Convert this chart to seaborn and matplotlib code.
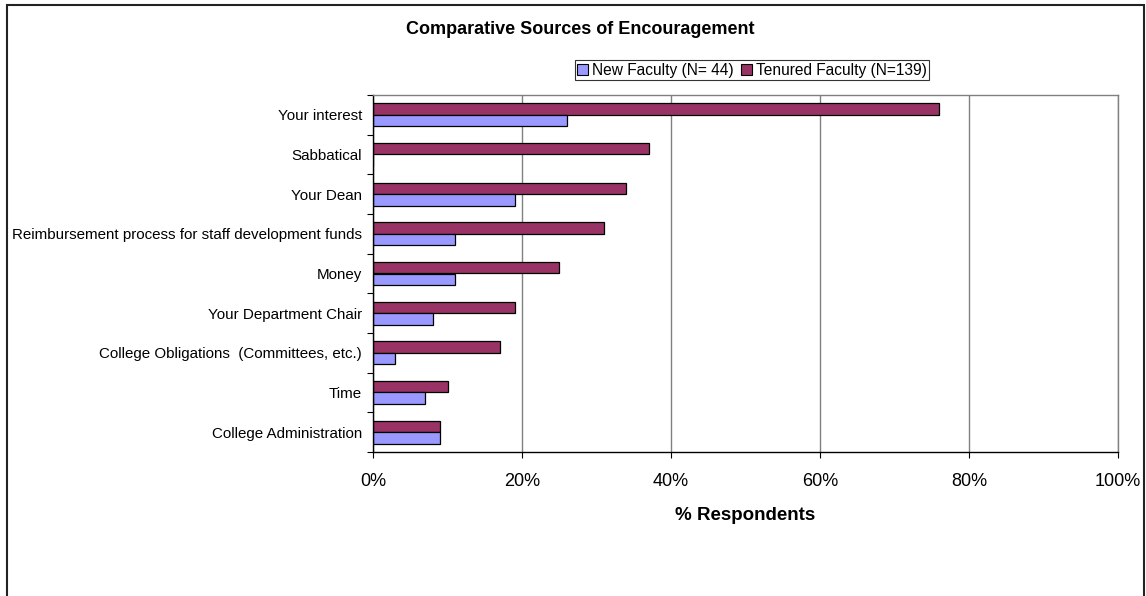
import matplotlib
matplotlib.use("Agg")
import matplotlib.pyplot as plt
from matplotlib.patches import Rectangle, Patch
from matplotlib.ticker import FixedLocator, FuncFormatter
import seaborn as sns
import pandas as pd

# Sources of encouragement, listed top to bottom
categories = [
    "Your interest",
    "Sabbatical",
    "Your Dean",
    "Reimbursement process for staff development funds",
    "Money",
    "Your Department Chair",
    "College Obligations  (Committees, etc.)",
    "Time",
    "College Administration",
]
new_faculty = [26, 0, 19, 11, 11, 8, 3, 7, 9]
tenured_faculty = [76, 37, 34, 31, 25, 19, 17, 10, 9]

new_label = "New Faculty (N= 44)"
tenured_label = "Tenured Faculty (N=139)"
x_ticks = [0, 20, 40, 60, 80, 100]

new_color = "#9999FF"
tenured_color = "#993366"

df = pd.DataFrame({
    "source": categories * 2,
    "pct": tenured_faculty + new_faculty,
    "group": [tenured_label] * len(categories) + [new_label] * len(categories),
})

sns.set_theme(style="white")
plt.rcParams["font.family"] = ["Liberation Sans", "DejaVu Sans"]
plt.rcParams["text.color"] = "black"
plt.rcParams["axes.labelcolor"] = "black"
plt.rcParams["xtick.color"] = "black"
plt.rcParams["ytick.color"] = "black"

W, H = 1146, 596
fig = plt.figure(figsize=(W / 100, H / 100), dpi=100)
ax = fig.add_axes([373 / W, 1 - 452 / H, (1118 - 373) / W, (452 - 95) / H])

sns.barplot(
    data=df, y="source", x="pct", hue="group",
    order=categories, hue_order=[tenured_label, new_label],
    palette={tenured_label: tenured_color, new_label: new_color},
    orient="h", width=0.575, gap=0, dodge=True,
    edgecolor="black", linewidth=0.9, saturation=1, legend=False, ax=ax,
)

ax.set_xlim(0, 100)
ax.set_ylim(len(categories) - 0.5, -0.5)

# x axis: percentage ticks with vertical gridlines
ax.xaxis.set_major_locator(FixedLocator(x_ticks))
ax.xaxis.set_major_formatter(FuncFormatter(lambda v, p: f"{int(v)}%"))
ax.tick_params(axis="x", direction="out", length=4, width=0.8, color="black",
               pad=11, labelsize=13, labelcolor="black", bottom=True)
ax.grid(axis="x", color="#808080", linewidth=1.0)
ax.grid(axis="y", visible=False)
ax.set_axisbelow(True)

# y axis: labels at category centres, tick marks between categories
ax.tick_params(axis="y", which="major", length=0, pad=8, labelsize=10.9, labelcolor="black")
ax.yaxis.set_minor_locator(FixedLocator([i - 0.5 for i in range(len(categories) + 1)]))
ax.tick_params(axis="y", which="minor", direction="out", length=4, width=0.8,
               color="black", left=True)
ax.set_ylabel("")

for side in ("left", "bottom"):
    ax.spines[side].set_color("black")
    ax.spines[side].set_linewidth(1.0)
for side in ("top", "right"):
    ax.spines[side].set_color("#808080")
    ax.spines[side].set_linewidth(1.0)

ax.set_xlabel("% Respondents", fontsize=13.5, fontweight="bold", color="black")
ax.xaxis.set_label_coords(0.5, -(515 - 452) / (452 - 95))
ax.xaxis.label.set_va("center")

fig.text(580 / W, 1 - 30 / H, "Comparative Sources of Encouragement",
         ha="center", va="center", fontsize=13, fontweight="bold", color="black")

handles = [
    Patch(facecolor=new_color, edgecolor="black", linewidth=0.8, label=new_label),
    Patch(facecolor=tenured_color, edgecolor="black", linewidth=0.8, label=tenured_label),
]
leg = fig.legend(
    handles=handles, loc="center", bbox_to_anchor=(752 / W, 1 - 70 / H),
    ncol=2, fontsize=11.2, frameon=True, fancybox=False, shadow=False,
    handlelength=0.7, handleheight=0.7, handletextpad=0.25, columnspacing=0.5,
    borderpad=0.15, borderaxespad=0,
)
leg.get_frame().set_edgecolor("black")
leg.get_frame().set_linewidth(0.8)
for t in leg.get_texts():
    t.set_color("black")

# outer chart frame
fig.patches.append(Rectangle((7 / W, -0.05), (1144 - 7) / W, 1.05 - 5 / H,
                             transform=fig.transFigure, fill=False,
                             edgecolor="#222222", linewidth=1.5))

fig.savefig("out.png", dpi=100, facecolor="white")
